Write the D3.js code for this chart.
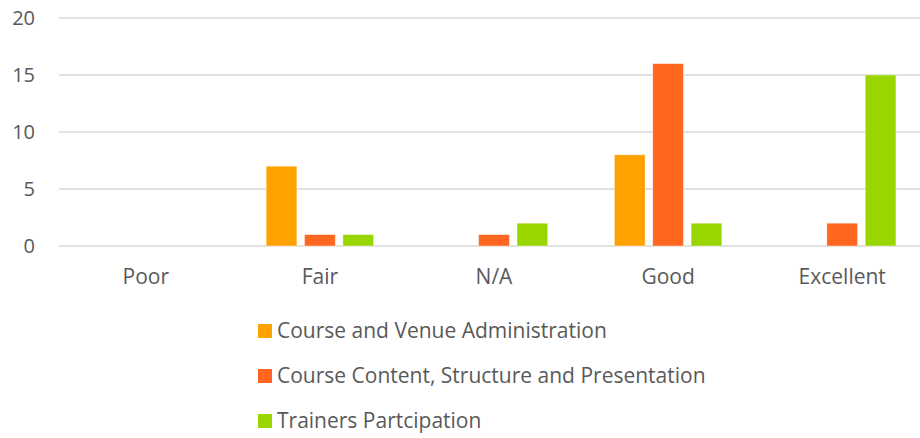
<!doctype html>
<html>
<head>
<meta charset="utf-8"/>
<style>
body{margin:0;background:#fff;}
text{font-family:"Open Sans",sans-serif;fill:#595959;}
</style>
<script src="https://d3js.org/d3.v7.min.js"></script>
</head>
<body>
<script>
// data
var categories = ["Poor", "Fair", "N/A", "Good", "Excellent"];
var seriesNames = ["Course and Venue Administration", "Course Content, Structure and Presentation", "Trainers Partcipation"];
var venueAdmin = [0, 7, 0, 8, 0];
var content = [0, 1, 1, 16, 2];
var trainers = [0, 1, 2, 2, 15];
var colors = ["#ffa200", "#ff6620", "#99d600"];
var yTicks = [0, 5, 10, 15, 20];

var allSeries = [venueAdmin, content, trainers];

var svg = d3.select("body").append("svg")
    .attr("width", 920)
    .attr("height", 438);

var x0 = d3.scaleBand().domain(categories).range([59, 929]).paddingInner(0.383).paddingOuter(0.19);
var x1 = d3.scaleBand().domain(d3.range(seriesNames.length)).range([0, x0.bandwidth()]).paddingInner(0.2);
var y = d3.scaleLinear().domain([0, 20]).range([246, 18]);

// gridlines
svg.selectAll(".grid")
    .data(yTicks)
    .enter()
    .append("line")
    .attr("x1", 59)
    .attr("x2", 929)
    .attr("y1", function(d){ return y(d); })
    .attr("y2", function(d){ return y(d); })
    .attr("stroke", "#d9d9d9")
    .attr("stroke-width", 1.5);

// y labels
svg.selectAll(".ylbl")
    .data(yTicks)
    .enter()
    .append("text")
    .attr("x", 35)
    .attr("y", function(d){ return y(d) + 7; })
    .attr("text-anchor", "end")
    .attr("font-size", 20)
    .text(function(d){ return d; });

// bars
var groups = svg.selectAll(".grp")
    .data(categories)
    .enter()
    .append("g")
    .attr("transform", function(d){ return "translate(" + x0(d) + ",0)"; });

groups.selectAll("rect")
    .data(function(d, i){ return allSeries.map(function(s, k){ return {k: k, v: s[i]}; }); })
    .enter()
    .filter(function(d){ return d.v > 0; })
    .append("rect")
    .attr("x", function(d){ return x1(d.k); })
    .attr("width", x1.bandwidth())
    .attr("y", function(d){ return y(d.v); })
    .attr("height", function(d){ return y(0) - y(d.v); })
    .attr("fill", function(d){ return colors[d.k]; })
    .attr("stroke", "#fff")
    .attr("stroke-opacity", 0.5)
    .attr("stroke-width", 0.75);

// x labels
svg.selectAll(".xlbl")
    .data(categories)
    .enter()
    .append("text")
    .attr("x", function(d){ return x0(d) + x0.bandwidth() / 2; })
    .attr("y", 284)
    .attr("text-anchor", "middle")
    .attr("font-size", 21)
    .text(function(d){ return d; });

// legend
var leg = svg.selectAll(".leg")
    .data(seriesNames)
    .enter()
    .append("g")
    .attr("transform", function(d, i){ return "translate(258," + (338 + i * 45) + ")"; });

leg.append("rect")
    .attr("x", 0)
    .attr("y", -14)
    .attr("width", 14)
    .attr("height", 14)
    .attr("fill", function(d, i){ return colors[i]; });

leg.append("text")
    .attr("x", 19)
    .attr("y", 0)
    .attr("font-size", 21)
    .text(function(d){ return d; });
</script>
</body>
</html>
